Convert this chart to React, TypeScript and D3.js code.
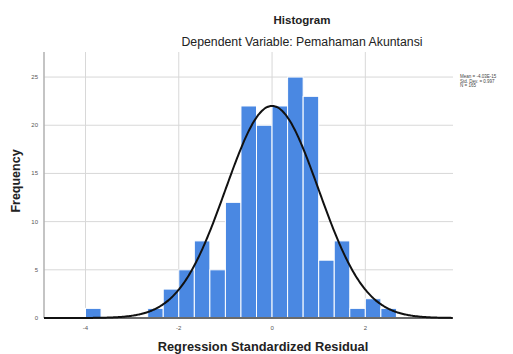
import React from "react";
import * as d3 from "d3";

const binStarts = [-4, -8 / 3, -7 / 3, -2, -5 / 3, -4 / 3, -1, -2 / 3, -1 / 3, 0, 1 / 3, 2 / 3, 1, 4 / 3, 5 / 3, 2, 7 / 3];
const counts = [1, 1, 3, 5, 8, 5, 12, 22, 20, 22, 25, 23, 6, 8, 1, 2, 1];
const binWidth = 1 / 3;
const xTicks = [-4, -2, 0, 2];
const yTicks = [0, 5, 10, 15, 20, 25];
const statsLines = ["Mean = -4.03E-15", "Std. Dev. = 0.997", "N = 165"];
const meanVal = 0;
const sdVal = 0.997;
const nVal = 165;

const W = 513;
const H = 354;
const plot = { left: 44, right: 453, top: 52, bottom: 318 };

export default function App() {
  const x = d3.scaleLinear().domain([-4.89, 3.88]).range([plot.left, plot.right]);
  const y = d3.scaleLinear().domain([0, 27.6]).range([plot.bottom, plot.top]);

  const curvePts: [number, number][] = d3.range(-4.89, 3.8801, 0.02).map((v) => {
    const dens = Math.exp(-0.5 * ((v - meanVal) / sdVal) ** 2) / (sdVal * Math.sqrt(2 * Math.PI));
    return [v, dens * nVal * binWidth];
  });
  const line = d3
    .line<[number, number]>()
    .x((d) => x(d[0]))
    .y((d) => y(d[1]))
    .curve(d3.curveBasis);

  const font = "'Liberation Sans', Arial, sans-serif";

  return (
    <svg
      width={W}
      height={H}
      style={{ position: "absolute", left: 0, top: 0, background: "#fff" }}
      fontFamily={font}
    >
      <rect x={0} y={0} width={W} height={H} fill="#fff" />
      <text x={302} y={24} textAnchor="middle" fontSize={11.5} fontWeight="bold" fill="#222">
        Histogram
      </text>
      <text x={302} y={46} textAnchor="middle" fontSize={12.3} fill="#222">
        Dependent Variable: Pemahaman Akuntansi
      </text>

      {/* grid */}
      {yTicks.filter((t) => t > 0).map((t) => (
        <line key={"gy" + t} x1={plot.left} x2={plot.right} y1={y(t)} y2={y(t)} stroke="#d8d8d8" strokeWidth={1} />
      ))}
      {xTicks.map((t) => (
        <line key={"gx" + t} x1={x(t)} x2={x(t)} y1={plot.top} y2={plot.bottom} stroke="#d8d8d8" strokeWidth={1} />
      ))}

      {/* bars */}
      {counts.map((c, i) => (
        <rect
          key={"b" + i}
          x={x(binStarts[i])}
          y={y(c)}
          width={x(binStarts[i] + binWidth) - x(binStarts[i])}
          height={y(0) - y(c)}
          fill="#4a88e2"
          stroke="#ffffff"
          strokeWidth={1}
        />
      ))}

      {/* axes */}
      <line x1={plot.left} x2={plot.left} y1={plot.top} y2={plot.bottom} stroke="#b0b0b0" strokeWidth={1.5} />
      <line x1={plot.left} x2={plot.right} y1={plot.bottom} y2={plot.bottom} stroke="#6a6a6a" strokeWidth={2} />

      {/* curve */}
      <path d={line(curvePts) || ""} fill="none" stroke="#111" strokeWidth={2} />

      {/* tick labels */}
      {yTicks.map((t) => (
        <text key={"ty" + t} x={38} y={y(t) + 2} textAnchor="end" fontSize={6} fill="#555">
          {t}
        </text>
      ))}
      {xTicks.map((t) => (
        <text key={"tx" + t} x={x(t)} y={330} textAnchor="middle" fontSize={6} fill="#555">
          {t}
        </text>
      ))}

      <text x={263} y={350.5} textAnchor="middle" fontSize={12.8} fontWeight="bold" fill="#222">
        Regression Standardized Residual
      </text>
      <text
        transform={`translate(19.5,${181}) rotate(-90)`}
        textAnchor="middle"
        fontSize={12.5}
        fontWeight="bold"
        fill="#222"
      >
        Frequency
      </text>

      {statsLines.map((s, i) => (
        <text key={"s" + i} x={460} y={78 + i * 4.5} fontSize={4.5} fill="#444">
          {s}
        </text>
      ))}
    </svg>
  );
}
